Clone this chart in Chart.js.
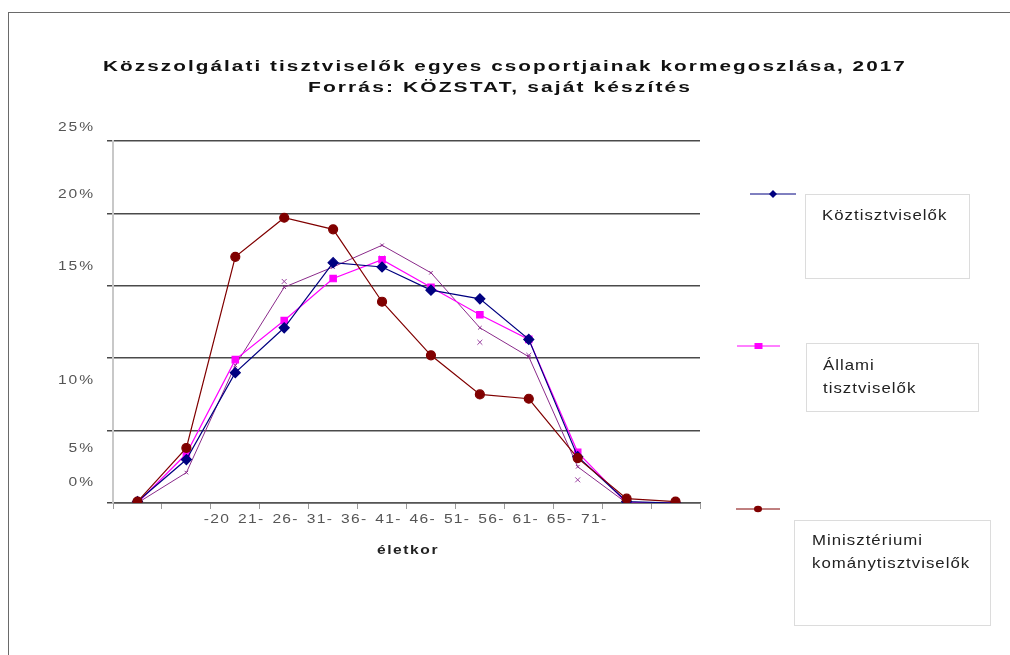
<!DOCTYPE html>
<html>
<head>
<meta charset="utf-8">
<title>Kormegoszlás 2017</title>
<script src="https://cdn.jsdelivr.net/npm/chart.js@4.4.1/dist/chart.umd.min.js"></script>
<style>
  html, body { margin: 0; padding: 0; background: #fff; }
  #wrap { position: relative; width: 1010px; height: 655px; overflow: hidden; }
  #frame { position: absolute; left: 8px; top: 12px; width: 1100px; height: 800px;
           border: 1.5px solid #6a6a6a; box-sizing: border-box; }
  #ageChart { position: absolute; left: 0; top: 0; }
</style>
</head>
<body>
<div id="wrap">
  <div id="frame"></div>
  <canvas id="ageChart" width="1010" height="655"></canvas>
</div>
<script>
// age groups and share of each group (%)
const ageGroups = ['-20', '21-', '26-', '31-', '36-', '41-', '46-', '51-', '56-', '61-', '65-', '71-'];
const yTickValues = [0, 5, 10, 15, 20, 25];
const yTickLabels = ['0%', '5%', '10%', '15%', '20%', '25%'];

const koztisztviselok   = [0.1, 3.0, 9.0, 12.1, 16.6, 16.3, 14.7, 14.1, 11.3, 3.2, 0.1, 0.0];
const allamiTisztviselok = [0.0, 3.4, 9.9, 12.6, 15.5, 16.8, 14.9, 13.0, 11.3, 3.5, 0.0, 0.0];
const miniszteriumi     = [0.1, 3.8, 17.0, 19.7, 18.9, 13.9, 10.2, 7.5, 7.2, 3.1, 0.3, 0.1];
const tovabbiCsoport    = [0.0, 2.1, 9.5, 14.9, 16.3, 17.8, 15.9, 12.1, 10.1, 2.5, 0.0, 0.0];
const tovabbiJelolok    = [-0.8, null, null, 15.3, null, 16.9, null, 11.1, 10.2, 1.6, -0.8, -0.8];

const FONT = '"Liberation Sans", Arial, sans-serif';

// text with letter spacing and a horizontal stretch (sx)
function drawText(ctx, str, x, y, font, color, align, spacing, sx) {
    ctx.save();
    ctx.translate(x, y);
    ctx.scale(sx || 1, 1);
    ctx.font = font;
    ctx.fillStyle = color;
    ctx.textAlign = align;
    ctx.textBaseline = 'middle';
    ctx.letterSpacing = spacing + 'px';
    ctx.fillText(str, 0, 0);
    ctx.restore();
}

function drawMarker(ctx, style, color, x, y, r) {
    ctx.save();
    ctx.fillStyle = color;
    ctx.beginPath();
    if (style === 'rectRot') {
        ctx.moveTo(x, y - r); ctx.lineTo(x + r, y); ctx.lineTo(x, y + r); ctx.lineTo(x - r, y);
        ctx.closePath();
    } else if (style === 'rect') {
        ctx.rect(x - r, y - r * 0.75, 2 * r, 1.5 * r);
    } else {
        ctx.ellipse(x, y, r, r * 0.8, 0, 0, Math.PI * 2);
    }
    ctx.fill();
    ctx.restore();
}

// title, misplaced tick labels, axis title and the boxed legend
const decorations = {
    id: 'decorations',
    afterDraw(chart) {
        const ctx = chart.ctx;
        const y = chart.scales.y;

        drawText(ctx, 'Közszolgálati tisztviselők egyes csoportjainak kormegoszlása, 2017',
            505, 67, 'bold 15px ' + FONT, '#111', 'center', 1.5, 1.38);
        drawText(ctx, 'Forrás: KÖZSTAT, saját készítés',
            500, 88, 'bold 15px ' + FONT, '#111', 'center', 1.5, 1.4);

        const yLabelShift = [-20, 18, 22, -19, -19, -13];
        yTickValues.forEach((v, i) => {
            drawText(ctx, yTickLabels[i], 95, y.getPixelForValue(v) + yLabelShift[i],
                '12px ' + FONT, '#555', 'right', 1.5, 1.3);
        });

        ageGroups.forEach((lbl, i) => {
            drawText(ctx, lbl, 217 + i * 34.3, 520, '12px ' + FONT, '#555', 'center', 1, 1.3);
        });

        drawText(ctx, 'életkor', 408, 551, 'bold 12px ' + FONT, '#222', 'center', 1.2, 1.3);

        const legend = [
            { ds: 0, line: [750, 796, 194], box: [805, 194, 164, 84], text: ['Köztisztviselők'], tx: 822, ty: 216 },
            { ds: 1, line: [737, 780, 346], box: [806, 343, 172, 68], text: ['Állami', 'tisztviselők'], tx: 823, ty: 366 },
            { ds: 2, line: [736, 780, 509], box: [794, 520, 196, 105], text: ['Minisztériumi', 'kománytisztviselők'], tx: 812, ty: 541 }
        ];
        legend.forEach(item => {
            const ds = chart.data.datasets[item.ds];
            ctx.save();
            ctx.strokeStyle = ds.borderColor;
            ctx.lineWidth = 1;
            ctx.beginPath();
            ctx.moveTo(item.line[0], item.line[2]);
            ctx.lineTo(item.line[1], item.line[2]);
            ctx.stroke();
            ctx.restore();
            drawMarker(ctx, ds.pointStyle, ds.backgroundColor,
                (item.line[0] + item.line[1]) / 2, item.line[2], 4);

            ctx.save();
            ctx.strokeStyle = '#dcdcdc';
            ctx.lineWidth = 1;
            ctx.strokeRect(item.box[0] + 0.5, item.box[1] + 0.5, item.box[2], item.box[3]);
            ctx.restore();
            item.text.forEach((t, k) => {
                drawText(ctx, t, item.tx, item.ty + k * 22.5, '15px ' + FONT, '#222', 'left', 0.9, 1.12);
            });
        });
    }
};

const ctx = document.getElementById('ageChart').getContext('2d');
const ageChart = new Chart(ctx, {
    type: 'line',
    data: {
        labels: ageGroups,
        datasets: [{
            label: 'Köztisztviselők',
            data: koztisztviselok,
            borderColor: '#000080',
            backgroundColor: '#000080',
            borderWidth: 1.2,
            pointStyle: 'rectRot',
            pointRadius: 5,
            order: 1
        }, {
            label: 'Állami tisztviselők',
            data: allamiTisztviselok,
            borderColor: '#ff00ff',
            backgroundColor: '#ff00ff',
            borderWidth: 1.2,
            pointStyle: 'rect',
            pointRadius: 4.5,
            order: 2
        }, {
            label: 'Minisztériumi kománytisztviselők',
            data: miniszteriumi,
            borderColor: '#800000',
            backgroundColor: '#800000',
            borderWidth: 1.2,
            pointStyle: 'circle',
            pointRadius: 4.5,
            order: 0
        }, {
            label: 'További csoport',
            data: tovabbiCsoport,
            borderColor: '#8a2a8a',
            backgroundColor: '#8a2a8a',
            borderWidth: 1,
            pointStyle: 'crossRot',
            pointRadius: 2.5,
            order: 3
        }, {
            label: 'További csoport jelölők',
            data: tovabbiJelolok,
            showLine: false,
            borderColor: '#9a40a0',
            backgroundColor: '#9a40a0',
            borderWidth: 1,
            pointStyle: 'crossRot',
            pointRadius: 3.5,
            clip: false,
            order: 4
        }]
    },
    options: {
        responsive: false,
        animation: false,
        devicePixelRatio: 1,
        layout: { padding: { left: 107, right: 310, top: 141, bottom: 146 } },
        elements: { line: { tension: 0 } },
        plugins: {
            legend: { display: false },
            title: { display: false },
            tooltip: { enabled: false }
        },
        scales: {
            x: {
                offset: true,
                ticks: { display: false },
                grid: {
                    offset: true,
                    drawOnChartArea: false,
                    drawTicks: true,
                    tickLength: 6,
                    tickColor: '#9a9a9a'
                },
                border: { color: '#555', width: 1.5 }
            },
            y: {
                min: 0,
                max: 25,
                ticks: { display: false, stepSize: 5 },
                grid: { color: '#4a4a4a', lineWidth: 1.5, tickLength: 6 },
                border: { color: '#c8c8c8', width: 2 }
            }
        }
    },
    plugins: [decorations]
});
</script>
</body>
</html>
